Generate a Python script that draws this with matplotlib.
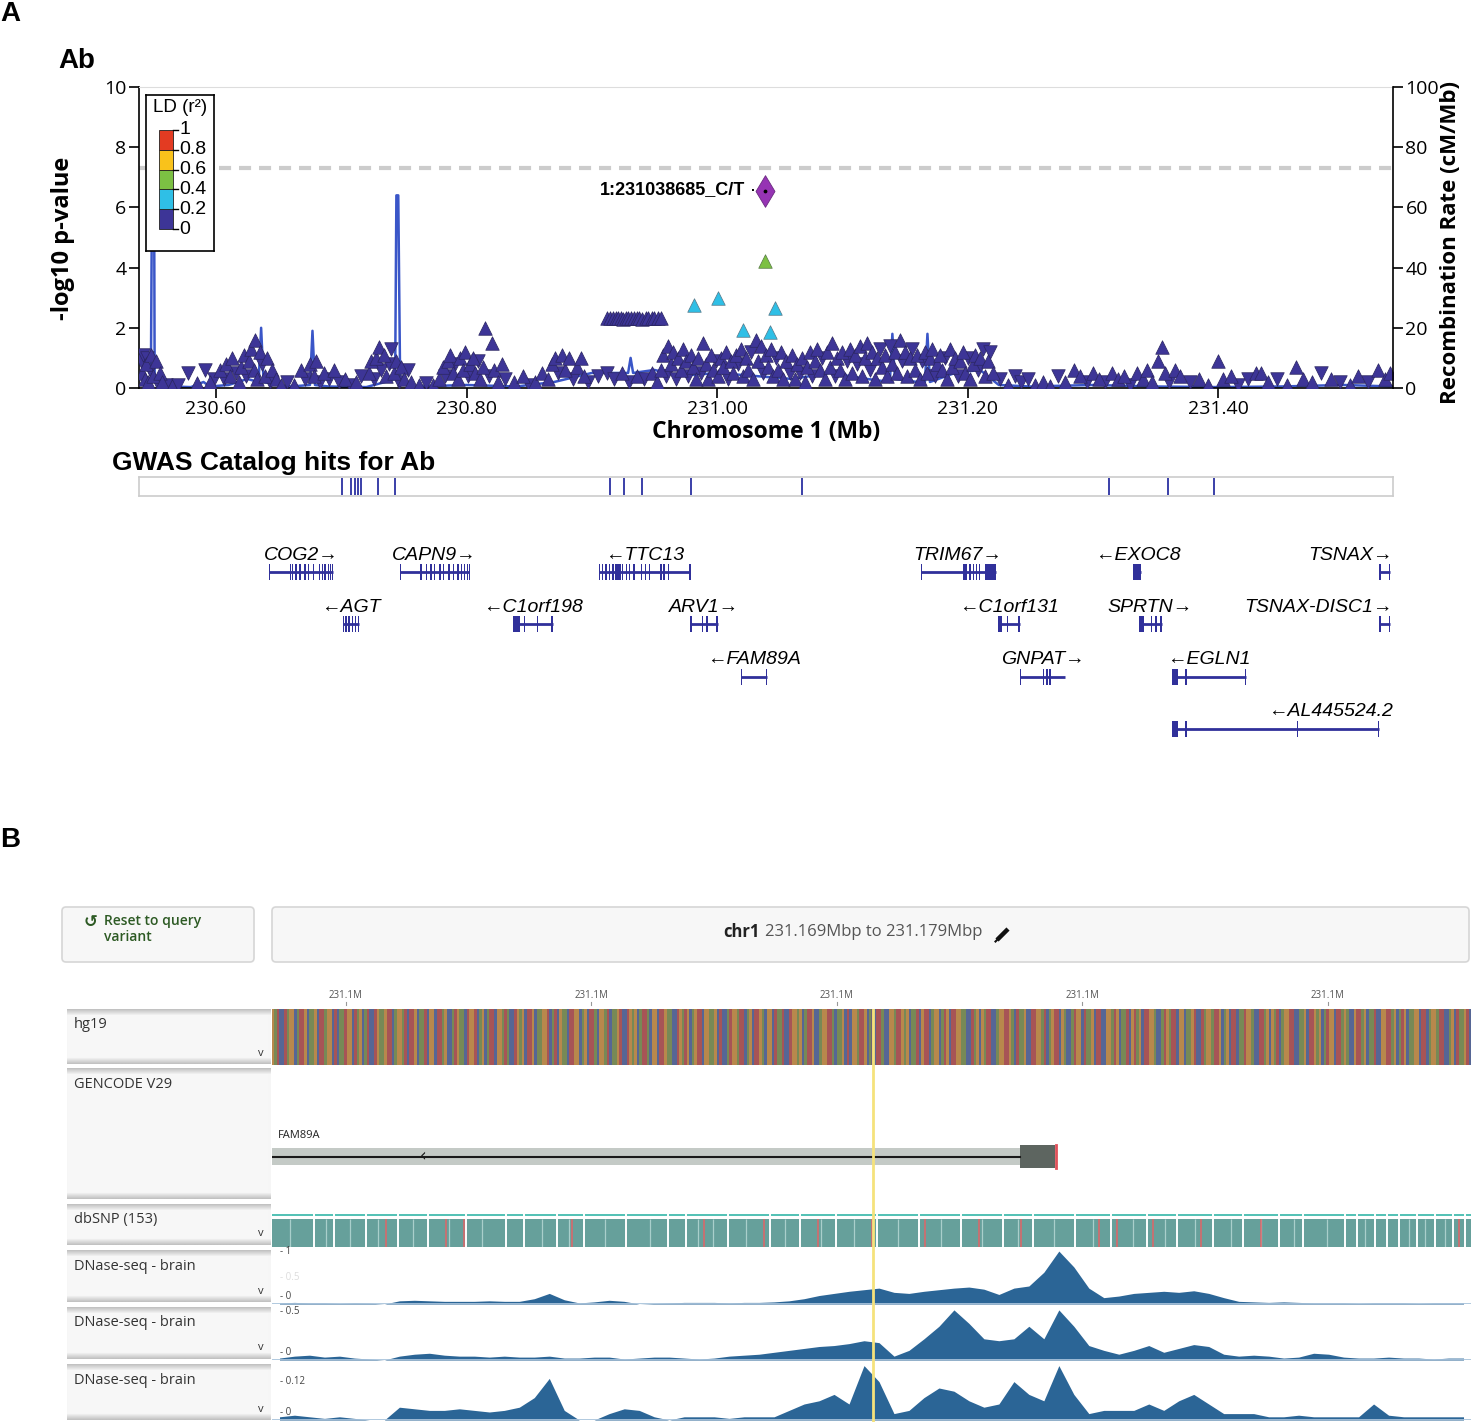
import numpy as np
import matplotlib.pyplot as plt
from matplotlib.patches import Rectangle, FancyBboxPatch

plt.rcParams['font.family'] = ['Liberation Sans', 'DejaVu Sans']

W, H = 1471, 1422

# ---------------- panel A data ----------------
x_range = (230.5385, 231.5397)
x_ticks = [230.6, 230.8, 231.0, 231.2, 231.4]
gwas_line = 7.3

ld_breaks = [0, 0.2, 0.4, 0.6, 0.8, 1.0]
ld_colors = ['#3d3597', '#2fbfe6', '#7cc043', '#f9c21b', '#e33b22']

# navy (r2 < 0.2) SNPs, up-pointing triangles
up_pos = [230.541, 230.543, 230.544, 230.546, 230.548, 230.550, 230.552, 230.555, 230.557,
          230.565, 230.585, 230.595,
          230.603, 230.608, 230.611, 230.613, 230.618, 230.620, 230.622, 230.626, 230.628, 230.630,
          230.631, 230.633, 230.635, 230.639, 230.641, 230.645, 230.648,
          230.652, 230.662, 230.668, 230.675, 230.678, 230.680, 230.686, 230.694,
          230.703, 230.712, 230.722, 230.724, 230.728, 230.730, 230.734, 230.736, 230.742, 230.744,
          230.748, 230.750, 230.756,
          230.762, 230.773, 230.778, 230.781, 230.785, 230.787, 230.789, 230.793, 230.795, 230.797,
          230.799, 230.803, 230.805, 230.807, 230.811, 230.813, 230.815, 230.820, 230.822, 230.825,
          230.828,
          230.838, 230.845, 230.855, 230.860, 230.865, 230.868, 230.871, 230.876, 230.879, 230.882,
          230.888, 230.891, 230.894,
          230.924, 230.936, 230.948,
          230.952, 230.955, 230.957, 230.961, 230.963, 230.965, 230.969, 230.971, 230.973, 230.975,
          230.979, 230.981, 230.983, 230.985, 230.989, 230.991, 230.993, 230.995, 230.997,
          231.001, 231.003, 231.005, 231.007, 231.011, 231.013, 231.015, 231.019, 231.021, 231.023,
          231.025, 231.029, 231.031, 231.033, 231.035, 231.039, 231.041, 231.043, 231.045, 231.049,
          231.051, 231.053, 231.055,
          231.060, 231.062, 231.064, 231.068, 231.070, 231.072, 231.074, 231.078, 231.080, 231.082,
          231.086, 231.088, 231.090, 231.092, 231.096, 231.098, 231.100, 231.102, 231.106, 231.108,
          231.110, 231.114, 231.116, 231.118, 231.120, 231.124, 231.126, 231.128, 231.132, 231.134,
          231.136, 231.140, 231.142, 231.144, 231.146, 231.150, 231.152, 231.154, 231.158, 231.160,
          231.162, 231.166, 231.168, 231.170, 231.172, 231.176, 231.178, 231.180, 231.184, 231.186,
          231.188, 231.190, 231.194, 231.196, 231.198, 231.202, 231.204, 231.206, 231.210, 231.214,
          231.216, 231.220,
          231.232, 231.254, 231.260, 231.266, 231.278, 231.285, 231.290, 231.300, 231.305, 231.315,
          231.320, 231.325, 231.335, 231.340, 231.343, 231.347, 231.352, 231.355, 231.358, 231.366,
          231.370, 231.385, 231.392,
          231.400, 231.404, 231.410, 231.430, 231.434, 231.440, 231.455, 231.462, 231.468, 231.475,
          231.490, 231.505, 231.512, 231.528, 231.533, 231.537]
up_logp = [0.5, 0.3, 0.8, 0.2, 1.1, 0.4, 0.9, 0.5, 0.2,
           0.05, 0.15, 0.2,
           0.6, 0.8, 0.4, 1.0, 0.2, 0.7, 1.1, 0.9, 1.3, 0.6,
           1.6, 0.3, 1.2, 0.4, 1.0, 0.6, 0.3,
           0.1, 0.1, 0.6, 0.8, 0.4, 0.9, 0.5, 0.6,
           0.3, 0.2, 0.5, 0.9, 1.0, 1.37, 1.1, 0.4, 0.5, 0.9,
           0.7, 0.3, 0.2,
           0.1, 0.1, 0.3, 0.7, 0.9, 1.1, 0.5, 0.3, 1.0, 0.6,
           1.2, 0.8, 1.0, 0.5, 0.3, 0.7, 2.0, 1.5, 0.6, 0.2,
           0.8,
           0.2, 0.4, 0.2, 0.5, 0.3, 0.8, 1.0, 1.1, 0.6, 1.0,
           0.7, 1.0, 0.4,
           0.5, 0.4, 0.5,
           0.2, 0.6, 1.1, 1.4, 0.8, 1.2, 1.0, 0.6, 1.3, 0.9,
           1.1, 0.7, 0.3, 1.0, 1.5, 0.8, 0.3, 1.1, 0.6,
           0.4, 1.0, 0.7, 1.2, 0.9, 0.5, 1.1, 1.3, 0.4, 1.0,
           0.6, 0.3, 1.6, 0.9, 1.4, 1.1, 0.7, 1.3, 0.4, 0.6,
           1.2, 0.3, 0.9,
           1.1, 0.3, 0.8, 1.0, 0.2, 0.7, 1.2, 0.9, 1.3, 0.6,
           0.3, 1.2, 0.7, 1.5, 1.0, 0.6, 1.2, 0.3, 1.3, 0.5,
           1.1, 1.4, 0.4, 1.0, 1.5, 1.2, 0.3, 1.0, 0.7, 1.1,
           0.4, 0.8, 1.2, 0.5, 1.6, 1.2, 0.4, 1.0, 0.6, 1.1,
           0.3, 1.2, 0.5, 1.0, 1.3, 0.8, 1.1, 0.6, 0.3, 1.3,
           0.7, 1.0, 0.9, 1.2, 0.5, 0.3, 0.8, 1.1, 1.0, 0.4,
           0.9, 0.5,
           0.1, 0.1, 0.2, 0.05, 0.2, 0.6, 0.4, 0.5, 0.3, 0.5,
           0.3, 0.4, 0.5, 0.3, 0.6, 0.2, 0.9, 1.37, 0.5, 0.6,
           0.4, 0.3, 0.1,
           0.9, 0.3, 0.4, 0.5, 0.5, 0.2, 0.1, 0.7, 0.3, 0.2,
           0.3, 0.1, 0.4, 0.6, 0.3, 0.5]

# navy (r2 < 0.2) SNPs, down-pointing triangles
down_pos = [230.540, 230.542, 230.545, 230.547, 230.553, 230.560,
            230.570, 230.578, 230.591, 230.598,
            230.606, 230.616, 230.624, 230.637, 230.643,
            230.657, 230.671, 230.683, 230.690, 230.698,
            230.707, 230.716, 230.726, 230.732, 230.738, 230.740, 230.746, 230.753,
            230.768, 230.783, 230.791, 230.801, 230.809, 230.818, 230.831,
            230.850, 230.873, 230.885, 230.897,
            230.905, 230.912, 230.918, 230.930, 230.942,
            230.959, 230.967, 230.977, 230.987, 230.999,
            231.009, 231.017, 231.027, 231.037, 231.047,
            231.058, 231.066, 231.076, 231.084, 231.094, 231.104, 231.112, 231.122, 231.130, 231.138,
            231.148, 231.156, 231.164, 231.174, 231.182, 231.192, 231.200, 231.208, 231.212, 231.218,
            231.226, 231.238, 231.243, 231.248, 231.272, 231.295, 231.310, 231.330, 231.361, 231.378,
            231.416, 231.424, 231.447, 231.482, 231.497, 231.520]
down_logp = [0.9, 1.1, 1.0, 0.6, 0.2, 0.1,
             0.1, 0.5, 0.6, 0.3,
             0.3, 0.5, 0.4, 0.8, 0.2,
             0.2, 0.3, 0.2, 0.3, 0.2,
             0.1, 0.4, 0.3, 0.6, 0.8, 1.3, 0.2, 0.6,
             0.15, 0.4, 0.8, 0.4, 0.9, 0.4, 0.3,
             0.1, 0.5, 0.3, 0.2,
             0.4, 0.5, 0.3, 0.2, 0.3,
             0.4, 0.3, 0.4, 0.5, 0.9,
             0.3, 0.8, 1.2, 0.5, 1.0,
             0.5, 0.5, 0.4, 1.0, 0.4, 0.9, 0.8, 0.6, 1.3, 1.4,
             0.9, 1.3, 0.9, 0.4, 1.0, 0.4, 1.0, 0.6, 1.3, 1.2,
             0.3, 0.4, 0.2, 0.3, 0.4, 0.2, 0.2, 0.1, 0.2, 0.2,
             0.1, 0.3, 0.3, 0.5, 0.2, 0.2]

# the row of SNPs sitting at about 2.3
plateau_pos = [230.912, 230.9145, 230.917, 230.919, 230.921, 230.923, 230.925, 230.927, 230.929, 230.931,
               230.934, 230.936, 230.938, 230.940, 230.943, 230.945, 230.948, 230.950, 230.953, 230.955]
plateau_logp = [2.31, 2.32, 2.31, 2.33, 2.31, 2.32, 2.30, 2.32, 2.31, 2.33,
                2.31, 2.32, 2.31, 2.30, 2.32, 2.31, 2.33, 2.31, 2.32, 2.31]

cyan_pos = [230.9814, 231.0010, 231.0206, 231.0419, 231.0465]
cyan_logp = [2.76, 2.98, 1.93, 1.86, 2.66]
green_pos = [231.0385]
green_logp = [4.22]
lead_pos = 231.038685
lead_logp = 6.53
lead_name = '1:231038685_C/T'

# recombination rate (cM/Mb)
rec_pos = [230.5385, 230.542, 230.546, 230.548, 230.549, 230.5505, 230.551, 230.556, 230.565, 230.580,
           230.590, 230.595, 230.610, 230.625, 230.634, 230.636, 230.638, 230.650, 230.660, 230.675,
           230.677, 230.679, 230.690, 230.720, 230.735, 230.743, 230.744, 230.7455, 230.747, 230.760,
           230.800, 230.840, 230.870, 230.900, 230.929, 230.931, 230.933, 230.950, 230.970, 231.000,
           231.030, 231.060, 231.090, 231.120, 231.138, 231.140, 231.142, 231.160, 231.166, 231.168,
           231.170, 231.190, 231.210, 231.225, 231.250, 231.300, 231.350, 231.400, 231.450, 231.500,
           231.5397]
rec_rate = [8, 10, 6, 4, 75, 75, 3, 1, 0.5, 0.3,
            2, 0.5, 1, 3, 2, 20, 2, 1, 0.5, 1,
            19, 1, 0.5, 0.3, 2, 3, 64, 64, 2, 0.5,
            1, 0.5, 2, 5, 5, 10, 5, 6, 4, 5,
            4, 3, 5, 3, 2, 18, 3, 2, 2, 18,
            2, 5, 6, 1, 0.5, 1, 0.5, 0.3, 0.5, 1,
            0.5]

gwas_hits = [230.7009, 230.7077, 230.7106, 230.7134, 230.7158, 230.7290, 230.7426, 230.9146,
             230.9255, 230.9397, 230.9789, 231.0678, 231.3130, 231.3600, 231.3968]

# genes: start / end in Mb, exons as (offset kb from start, length kb)
gene_names = ['COG2', 'CAPN9', 'TTC13', 'TRIM67', 'EXOC8', 'TSNAX',
              'AGT', 'C1orf198', 'ARV1', 'C1orf131', 'SPRTN', 'TSNAX-DISC1',
              'FAM89A', 'GNPAT', 'EGLN1', 'AL445524.2']
gene_start = [230.6421, 230.7468, 230.9056, 231.1625, 231.3325, 231.5288,
              230.7013, 230.8370, 230.9787, 231.2240, 231.3373, 231.5288,
              231.0189, 231.2415, 231.3636, 231.3636]
gene_end = [230.6937, 230.8023, 230.9787, 231.2224, 231.3389, 231.5376,
            230.7141, 230.8689, 231.0005, 231.2415, 231.3549, 231.5376,
            231.0400, 231.2782, 231.4223, 231.5288]
gene_strand = ['+', '+', '-', '+', '-', '+',
               '-', '-', '+', '-', '+', '+',
               '-', '+', '-', '-']
gene_row = [1, 1, 1, 1, 1, 1,
            2, 2, 2, 2, 2, 2,
            3, 3, 3, 4]
gene_exons = {
    'COG2': [(o, 1.1) for o in [0, 16.7, 18.5, 21.3, 24.5, 28.5, 31.3, 35.3, 39.9, 42.4, 44.5, 47, 48.8, 50.5]],
    'CAPN9': [(o, 1.1) for o in [0, 16.4, 20.7, 24.3, 27.1, 31.4, 34.3, 38.6, 42.2, 45.7, 48.6, 51, 53.6, 54.9]],
    'TTC13': [(o, 1.1) for o in [0, 2.6, 5.1, 7.9, 10.8, 13.3, 16.2, 18.6, 21.5, 24, 27.6, 33.6, 36.5, 40.1,
                                  49, 51.5, 55.1, 72.2]] + [(14.5, 3.5)],
    'TRIM67': [(0, 1.2), (34.2, 2.6), (39, 1.1), (41.6, 1.1), (44.2, 1.1), (46.4, 1.1), (51.5, 8.4)],
    'EXOC8': [(0, 6.4)],
    'TSNAX': [(0, 1.1), (7.7, 1.1)],
    'AGT': [(o, 1.1) for o in [0, 1.8, 4.3, 7.1, 9.7, 11.7]],
    'C1orf198': [(0, 5.3), (8.8, 1.1), (18.9, 1.1), (30.8, 1.1)],
    'ARV1': [(0, 1.1), (9, 1.1), (12.6, 1.1), (20.7, 1.1)],
    'C1orf131': [(0, 3.9), (7.6, 1.1), (16.4, 1.1)],
    'SPRTN': [(0, 3.7), (8.8, 1.1), (12.5, 1.1), (16.5, 1.1)],
    'TSNAX-DISC1': [(0, 1.1), (7.7, 1.1)],
    'FAM89A': [(0, 1.1), (19.9, 1.1)],
    'GNPAT': [(0, 1.1), (18.7, 1.1), (21.3, 1.1), (23.9, 1.1)],
    'EGLN1': [(0, 4.4), (10.3, 1.1), (57.6, 1.1)],
    'AL445524.2': [(0, 4.4), (10.3, 1.1), (99.1, 1.1), (164, 1.1)],
}

# ---------------- panel B data ----------------
region_kb = (231169.0, 231179.0)
ruler_kb = [231169.617, 231171.661, 231173.712, 231175.756, 231177.807]
ruler_label = '231.1M'
query_kb = 231174.012

hg19_seq = ("GATCCTAGGCATTGCAAGCTTAGGCTCAATGGCTAGCATCCTGAAGTTCAGGATCTTGCA"
            "ATCGGCTTAGCCATGAACTGGTCAGCATTCGGATACCTGAGCTTGCAAGGTCATCGAACT"
            "TGGCAGCTTACGGATCAAGTCCTGAGCATTACGGCTTGAACCTGATGCAGTTCGGAAGCT"
            "CCATGGATTCAGCTTGACGGCTAATCCTGGAGCATTGCCAGGTTACAAGCTCGGATTGCA"
            "GCTTACCGGATTGAGCAATCGTTCAGGCATGCTTGGAACCTAGCGATTCCAGGTTGACTA"
            "AGCCTTGGATCAGTTCGACCATGGCTAAGCTTCCGGATGCAATCGTAGCTTGGACCATGA"
            "TTCGGCAAGTCCTAGGATTGCAGCTTCAATGGACCTTAGCGATCAGGTTCCAAGCTTGAG"
            "CATGGCTTAGACCGTTAGCAATCCGGTTAGCATGCAAGGCTTCAGGATTCCAGCTAAGTC")
base_colors = {'A': '#7d9c46', 'C': '#4c68a3', 'G': '#dd9a38', 'T': '#c44d47'}

fam89a_kb = (231169.0, 231175.238)
fam89a_utr_kb = (231175.238, 231175.530)
fam89a_tss_kb = 231175.539
fam89a_arrow_kb = 231170.26

snp_gaps = [231169.35, 231169.52, 231169.78, 231170.05, 231170.30, 231170.62, 231170.95, 231171.10,
            231171.38, 231171.60, 231171.95, 231172.30, 231172.45, 231172.80, 231173.15, 231173.40,
            231173.70, 231174.05, 231174.40, 231174.75, 231175.10, 231175.35, 231175.70, 231176.00,
            231176.30, 231176.55, 231176.85, 231177.10, 231177.40, 231177.60, 231177.95, 231178.05,
            231178.20, 231178.30, 231178.40, 231178.55, 231178.70, 231178.85, 231178.95]
snp_faint = [231169.15, 231169.45, 231169.65, 231169.88, 231170.18, 231170.48, 231170.75, 231171.25,
             231171.48, 231171.78, 231172.15, 231172.55, 231172.68, 231172.95, 231173.28, 231173.58,
             231173.85, 231174.22, 231174.58, 231174.92, 231175.22, 231175.52, 231175.85, 231176.18,
             231176.45, 231176.70, 231177.00, 231177.25, 231177.52, 231177.80, 231178.12, 231178.48,
             231178.62, 231178.78]
snp_red = [231169.95, 231170.45, 231170.60, 231171.50, 231171.95, 231172.60, 231173.10, 231173.55,
           231174.00, 231174.45, 231174.90, 231175.25, 231175.90, 231176.05, 231176.35, 231176.75,
           231177.25, 231178.90]

dnase_bin_kb = 0.125
dnase_1 = [0.02, 0.03, 0.02, 0.02, 0.01, 0.02, 0.015, 0.0,
           0.06, 0.07, 0.06, 0.05, 0.05, 0.05, 0.06, 0.05, 0.05,
           0.1, 0.2, 0.08, 0.02, 0.04, 0.07, 0.05, 0.0, 0.01,
           0.02, 0.03, 0.03, 0.03, 0.02, 0.03, 0.03, 0.04, 0.06,
           0.1, 0.16, 0.2, 0.24, 0.27, 0.3,
           0.22, 0.2, 0.24, 0.27, 0.3, 0.32, 0.28, 0.18, 0.3, 0.34,
           0.6, 1.0, 0.7, 0.3, 0.12,
           0.15, 0.2, 0.22, 0.24, 0.22, 0.25, 0.2, 0.12,
           0.05, 0.04, 0.03, 0.04, 0.03, 0.02,
           0.02, 0.02, 0.01, 0.02, 0.02, 0.02, 0.01, 0.02, 0.02, 0.02]
dnase_2 = [0.02, 0.04, 0.05, 0.03, 0.04, 0.02, 0.01, 0.0,
           0.04, 0.06, 0.07, 0.05, 0.04, 0.04, 0.03, 0.04, 0.03, 0.03,
           0.04, 0.02, 0.02, 0.03, 0.03, 0.01, 0.02, 0.03, 0.03, 0.02, 0.01, 0.02,
           0.04, 0.05, 0.06, 0.08, 0.1, 0.12, 0.14, 0.15, 0.17, 0.2,
           0.18, 0.04, 0.1, 0.22, 0.35, 0.52, 0.38, 0.22, 0.2, 0.22,
           0.35, 0.22, 0.52, 0.35, 0.15, 0.1,
           0.06, 0.1, 0.15, 0.08, 0.12, 0.16, 0.14, 0.06,
           0.04, 0.05, 0.04, 0.02, 0.03, 0.07,
           0.06, 0.03, 0.02, 0.02, 0.03, 0.02, 0.02, 0.01, 0.02, 0.02]
dnase_3 = [0.01, 0.015, 0.01, 0.005, 0.01, 0.005, 0.0, 0.0,
           0.04, 0.035, 0.03, 0.03, 0.035, 0.03, 0.025, 0.03, 0.04,
           0.07, 0.13, 0.03, 0.0, 0.0, 0.02, 0.035, 0.03, 0.01,
           0.0, 0.01, 0.01, 0.01, 0.005, 0.01, 0.01, 0.01,
           0.03, 0.05, 0.06, 0.08, 0.05, 0.17, 0.12, 0.02,
           0.03, 0.07, 0.1, 0.09, 0.06, 0.04, 0.05, 0.12, 0.08,
           0.06, 0.17, 0.08, 0.02, 0.03,
           0.03, 0.03, 0.05, 0.03, 0.06, 0.08, 0.05, 0.02,
           0.02, 0.02, 0.01, 0.01, 0.015, 0.01,
           0.01, 0.01, 0.01, 0.05, 0.015, 0.01, 0.01, 0.01, 0.01, 0.01]
dnase_tracks = [(dnase_1, 1.02, [(1, '1', '#444444'), (0.5, '0.5', '#dddddd')]),
                (dnase_2, 0.55, [(0.5, '0.5', '#444444')]),
                (dnase_3, 0.175, [(0.12, '0.12', '#444444')])]

track_labels = ['hg19', 'GENCODE V29', 'dbSNP (153)', 'DNase-seq - brain', 'DNase-seq - brain',
                'DNase-seq - brain']


def frac(x0, y0, x1, y1):
    return [x0 / W, 1 - y1 / H, (x1 - x0) / W, (y1 - y0) / H]


def ld_color(r2):
    for i in range(5):
        if r2 < ld_breaks[i + 1]:
            return ld_colors[i]
    return ld_colors[-1]


fig = plt.figure(figsize=(W / 100, H / 100), dpi=100)

pix = fig.add_axes([0, 0, 1, 1])
pix.set_xlim(0, W)
pix.set_ylim(H, 0)
pix.axis('off')

# ---------- panel A: regional association plot ----------
ax = fig.add_axes(frac(139, 87, 1393, 388))
ax.set_xlim(*x_range)
ax.set_ylim(0, 10)
ax.axhline(gwas_line, color='#cccccc', lw=3, dashes=(2.9, 1.9), zorder=1, clip_on=False)
ax.plot(rec_pos, np.array(rec_rate) / 10, color='#3a56c8', lw=1.8, zorder=2)

edge = '#2a2560'
ax.scatter(down_pos, down_logp, marker='v', s=95, c=ld_color(0.05), edgecolors=edge, linewidths=0.5, zorder=3)
ax.scatter(up_pos, up_logp, marker='^', s=95, c=ld_color(0.05), edgecolors=edge, linewidths=0.5, zorder=3)
ax.scatter(plateau_pos, plateau_logp, marker='^', s=95, c=ld_color(0.05), edgecolors=edge, linewidths=0.5, zorder=3)
ax.scatter(cyan_pos, cyan_logp, marker='^', s=95, c=ld_color(0.3), edgecolors='#557788', linewidths=0.5, zorder=4)
ax.scatter(green_pos, green_logp, marker='^', s=95, c=ld_color(0.5), edgecolors='#557744', linewidths=0.5, zorder=4)
ax.scatter([lead_pos], [lead_logp], marker='d', s=260, c='#9634b4', edgecolors='#6a2a80', linewidths=0.6, zorder=5)
ax.scatter([lead_pos], [lead_logp], marker='o', s=3, c='black', zorder=6)
ax.plot([lead_pos - 0.011, lead_pos - 0.003], [lead_logp + 0.05] * 2, ls=(0, (1, 2)), color='black', lw=1.4)
ax.text(lead_pos - 0.0165, lead_logp + 0.05, lead_name, ha='right', va='center', fontsize=13, fontweight='bold')

ax.spines['top'].set_color('#dddddd')
ax.spines['right'].set_visible(False)
ax.spines['left'].set_linewidth(1.2)
ax.spines['bottom'].set_linewidth(1.2)
ax.set_xticks(x_ticks, labels=['%.2f' % t for t in x_ticks], fontsize=14, fontfamily='Open Sans')
ax.set_yticks(range(0, 11, 2), labels=[str(v) for v in range(0, 11, 2)], fontsize=14, fontfamily='Open Sans')
ax.tick_params(direction='out', length=7, width=1.2, pad=2)

ax2 = ax.twinx()
ax2.set_ylim(0, 100)
for s in ['top', 'left', 'bottom']:
    ax2.spines[s].set_visible(False)
ax2.spines['right'].set_linewidth(1.2)
ax2.set_yticks(range(0, 101, 20), labels=[str(v) for v in range(0, 101, 20)], fontsize=14, fontfamily='Open Sans')
ax2.tick_params(direction='out', length=7, width=1.2, pad=2)

pix.text(766, 432, 'Chromosome 1 (Mb)', ha='center', va='center', fontsize=16.5, fontweight='bold', fontfamily='Open Sans')
pix.text(63, 238, '-log10 p-value', ha='center', va='center', rotation=90, fontsize=17, fontweight='bold', fontfamily='Open Sans')
pix.text(1451, 242, 'Recombination Rate (cM/Mb)', ha='center', va='center', rotation=90, fontsize=16, fontweight='bold', fontfamily='Open Sans')
pix.text(0, 14, 'A', ha='left', va='center', fontsize=20, fontweight='bold')
pix.text(58, 61, 'Ab', ha='left', va='center', fontsize=20, fontweight='bold')

# LD legend
axl = fig.add_axes(frac(146, 95, 214, 251), zorder=5)
axl.set_xlim(0, 68)
axl.set_ylim(156, 0)
axl.set_xticks([])
axl.set_yticks([])
for s in axl.spines.values():
    s.set_linewidth(1.2)
axl.text(34, 12, 'LD (r²)', ha='center', va='center', fontsize=13.5)
seg = 99 / 5
for i, col in enumerate(ld_colors):
    top = 35 + (4 - i) * seg
    axl.add_patch(Rectangle((13, top), 14, seg, fc=col, ec='#222222', lw=0.6))
for j, b in enumerate(ld_breaks[::-1]):
    y = 35 + j * seg
    axl.plot([27, 32], [y, y], color='black', lw=1)
    axl.text(33.5, y, ('%g' % b), ha='left', va='center', fontsize=14)

# GWAS catalog track
pix.text(112, 463, 'GWAS Catalog hits for Ab', ha='left', va='center', fontsize=19, fontweight='bold')
axg = fig.add_axes(frac(139, 477, 1393, 496))
axg.set_xlim(*x_range)
axg.set_ylim(0, 1)
axg.vlines(gwas_hits, 0.05, 0.95, color='#3a3fa8', lw=1.4)
axg.set_xticks([])
axg.set_yticks([])
for s in axg.spines.values():
    s.set_color('#cccccc')
    s.set_linewidth(1.2)

# gene track
axe = fig.add_axes(frac(139, 530, 1393, 750))
axe.set_xlim(*x_range)
axe.set_ylim(220, 0)
axe.axis('off')
gene_col = '#30309a'
for name, g0, g1, strand, row in zip(gene_names, gene_start, gene_end, gene_strand, gene_row):
    yc = 42 + (row - 1) * 52.3
    axe.plot([g0, g1], [yc, yc], color=gene_col, lw=2, solid_capstyle='butt')
    for off, ln in gene_exons[name]:
        axe.add_patch(Rectangle((g0 + off / 1000, yc - 8), ln / 1000, 16, fc=gene_col, ec='none'))
    label = name + '→' if strand == '+' else '←' + name
    mid = (g0 + g1) / 2
    if g1 > x_range[1] - 0.02:
        axe.text(x_range[1], yc - 17, label, ha='right', va='center', fontsize=14, style='italic')
    else:
        axe.text(mid, yc - 17, label, ha='center', va='center', fontsize=14, style='italic')

# ---------- panel B: genome browser screenshot ----------
pix.text(0, 840, 'B', ha='left', va='center', fontsize=20, fontweight='bold')
pix.add_patch(FancyBboxPatch((62, 907), 192, 55, boxstyle='round,pad=0,rounding_size=4',
                             fc='#f7f7f7', ec='#d6d6d6', lw=1.2))
pix.add_patch(FancyBboxPatch((272, 907), 1197, 55, boxstyle='round,pad=0,rounding_size=4',
                             fc='#f7f7f7', ec='#d6d6d6', lw=1.2))
pix.text(91, 922, '↺', ha='center', va='center', fontsize=12, color='#2d5a24', fontweight='bold', family='DejaVu Sans')
pix.text(104, 921, 'Reset to query', ha='left', va='center', fontsize=10, color='#2d5a24',
         fontweight='semibold', fontfamily='Open Sans')
pix.text(104, 937, 'variant', ha='left', va='center', fontsize=10, color='#2d5a24',
         fontweight='semibold', fontfamily='Open Sans')
pix.text(760, 932, 'chr1', ha='right', va='center', fontsize=12, fontweight='bold', fontfamily='Open Sans', color='#222222')
pix.text(765, 932, '%.3fMbp to %.3fMbp' % (region_kb[0] / 1000, region_kb[1] / 1000), ha='left', va='center',
         fontsize=12, fontfamily='Open Sans', color='#555555')
# pencil icon
pix.plot([997, 1008], [940, 929], color='#111111', lw=3.2, solid_capstyle='butt')
pix.plot([995.5, 997.5], [941.5, 939.5], color='#111111', lw=1.5)

# ruler
axr = fig.add_axes(frac(272, 980, 1471, 1009))
axr.set_xlim(*region_kb)
axr.set_ylim(29, 0)
axr.axis('off')
for t in ruler_kb:
    axr.text(t, 15, ruler_label, ha='center', va='center', fontsize=7, color='#555555', fontfamily='Open Sans')
    axr.plot([t, t], [22, 25], color='#999999', lw=0.8)

# label panels with shaded edges
panel_rows = [(1009, 1064), (1068, 1199), (1204, 1245), (1250, 1302), (1307, 1359), (1364, 1420)]
for (y0, y1), lab in zip(panel_rows, track_labels):
    n = int(y1 - y0)
    shade = np.full(n, 0.965)
    ramp = np.linspace(0.76, 0.965, 7)
    shade[:7] = ramp
    shade[-7:] = ramp[::-1]
    pix.imshow(shade[:, None], cmap='gray', vmin=0, vmax=1, extent=(67, 271, y1, y0), aspect='auto',
               interpolation='bilinear')
    pix.text(74, y0 + 16, lab, ha='left', va='center', fontsize=10.5, color='#333333', fontfamily='Open Sans')
    if lab != 'GENCODE V29':
        pix.text(261, y1 - 11, 'v', ha='center', va='center', fontsize=8, color='#333333', fontfamily='Open Sans')
pix.set_xlim(0, W)
pix.set_ylim(H, 0)


def track(y0, y1, ylim):
    a = fig.add_axes(frac(272, y0, 1471, y1))
    a.set_xlim(*region_kb)
    a.set_ylim(*ylim)
    a.axis('off')
    return a


# hg19 sequence
ah = track(1009, 1065, (0, 1))
ah.add_patch(Rectangle((region_kb[0], 0), region_kb[1] - region_kb[0], 1, fc='#6b6478', ec='none'))
bw = (region_kb[1] - region_kb[0]) / len(hg19_seq)
ah.bar([region_kb[0] + i * bw for i in range(len(hg19_seq))], 1, width=bw, align='edge',
       color=[base_colors[b] for b in hg19_seq], alpha=0.68, linewidth=0)

# GENCODE
ag = track(1068, 1199, (131, 0))
ag.add_patch(Rectangle((fam89a_kb[0], 80), fam89a_kb[1] - fam89a_kb[0], 17, fc='#c4cac6', ec='none'))
ag.plot(fam89a_kb, [88.5, 88.5], color='#1a1a1a', lw=1.5)
ag.add_patch(Rectangle((fam89a_utr_kb[0], 77), fam89a_utr_kb[1] - fam89a_utr_kb[0], 23, fc='#5d6560', ec='none'))
ag.plot([fam89a_tss_kb] * 2, [77, 100], color='#e0505a', lw=2)
ag.text(fam89a_arrow_kb, 88.5, '‹', ha='center', va='center', fontsize=12, color='#1a1a1a', family='DejaVu Sans')
ag.text(region_kb[0] + 0.05, 68, 'FAM89A', ha='left', va='center', fontsize=8, fontfamily='Open Sans', color='#222222')

# dbSNP
asn = track(1205, 1247, (42, 0))
asn.add_patch(Rectangle((region_kb[0], 8.5), region_kb[1] - region_kb[0], 2.2, fc='#55c2b6', ec='none'))
asn.add_patch(Rectangle((region_kb[0], 14), region_kb[1] - region_kb[0], 28, fc='#66a09b', ec='none'))
asn.vlines(snp_faint, 14, 42, color='#a9cfcb', lw=0.9)
asn.vlines(snp_red, 14, 42, color='#e06468', lw=1.1)
asn.vlines(snp_gaps, 7, 42, color='white', lw=1.4)

# DNase tracks
dn_rows = [(1250, 1304), (1307, 1360), (1364, 1420)]
for (y0, y1), (vals, top, labels) in zip(dn_rows, dnase_tracks):
    a = track(y0, y1, (0, top))
    xs = region_kb[0] + (np.arange(len(vals)) + 0.5) * dnase_bin_kb
    a.fill_between(xs, vals, 0, color='#2b6596', lw=0)
    a.axhline(0, color='#a9c4dc', lw=2)
    for v, txt, col in labels:
        a.text(region_kb[0] + 0.07, v, '- ' + txt, ha='left', va='center', fontsize=7, color=col,
               fontfamily='Open Sans')
    a.text(region_kb[0] + 0.07, top * 0.04, '- 0', ha='left', va='bottom', fontsize=7, color='#444444',
           fontfamily='Open Sans')

# query variant highlight
aq = fig.add_axes(frac(272, 1009, 1471, 1422), zorder=20)
aq.set_xlim(*region_kb)
aq.set_ylim(0, 1)
aq.axis('off')
aq.axvline(query_kb, color='#f5e27c', lw=2)

fig.savefig('out.png', dpi=100)
